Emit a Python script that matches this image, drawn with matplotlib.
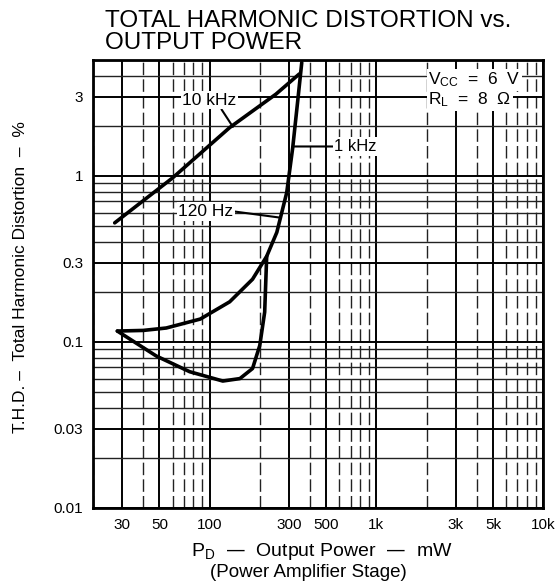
import numpy as np
import matplotlib.pyplot as plt
from matplotlib.ticker import FixedLocator, NullFormatter, LogLocator

plt.rcParams['font.family'] = ['Liberation Sans', 'DejaVu Sans']

# curves: output power (mW) vs THD (%)
p_10k = [27, 60, 132, 250, 345]
thd_10k = [0.52, 0.97, 1.95, 3.1, 4.1]

p_1k = [28, 40, 55, 88, 132, 181, 220, 253, 290, 315, 338, 357]
thd_1k = [0.116, 0.117, 0.121, 0.137, 0.174, 0.238, 0.327, 0.456, 0.79, 1.47, 2.85, 4.8]

p_120 = [28, 48, 76, 120, 152, 181, 200, 214, 220]
thd_120 = [0.116, 0.082, 0.066, 0.058, 0.060, 0.069, 0.095, 0.151, 0.327]

x_ticks = [30, 50, 100, 300, 500, 1000, 3000, 5000, 10000]
x_labels = ["30", "50", "100", "300", "500", "1k", "3k", "5k", "10k"]
y_ticks = [0.01, 0.03, 0.1, 0.3, 1, 3]
y_labels = ["0.01", "0.03", "0.1", "0.3", "1", "3"]

fig = plt.figure(figsize=(5.6, 5.85), dpi=100)
ax = fig.add_axes([0.166, 0.132, 0.804, 0.766])
ax.set_xscale("log")
ax.set_yscale("log")
ax.set_xlim(20, 10000)
ax.set_ylim(0.01, 5)

# datasheet style grid
ax.xaxis.set_minor_locator(LogLocator(base=10, subs=np.arange(2, 10)))
ax.yaxis.set_minor_locator(LogLocator(base=10, subs=np.arange(2, 10)))
ax.xaxis.set_minor_formatter(NullFormatter())
ax.yaxis.set_minor_formatter(NullFormatter())
ax.grid(True, which="minor", axis="x", color="#222222", lw=1.0, ls=(0, (9, 3)))
ax.grid(True, which="minor", axis="y", color="#222222", lw=1.0)
ax.grid(True, which="major", color="black", lw=1.4)
ax.xaxis.set_major_locator(FixedLocator(x_ticks))
ax.yaxis.set_major_locator(FixedLocator(y_ticks))
ax.set_xticklabels(x_labels)
ax.set_yticklabels(y_labels)
ax.tick_params(which="both", length=0, labelsize=11, pad=7)
for s in ax.spines.values():
    s.set_linewidth(2.0)

ax.plot(p_10k, thd_10k, color="black", lw=2.6, solid_capstyle="round")
ax.plot(p_1k, thd_1k, color="black", lw=2.6, solid_capstyle="round")
ax.plot(p_120, thd_120, color="black", lw=2.6, solid_capstyle="round")

box = dict(boxstyle="square,pad=0.1", fc="white", ec="none")
ax.annotate("10 kHz", xy=(138, 1.97), xytext=(100, 2.85), ha="center", va="center",
            fontsize=12.5, bbox=box,
            arrowprops=dict(arrowstyle="-", lw=1.5, color="black", relpos=(0.7, 0.0),
                            shrinkA=0, shrinkB=0))
ax.annotate("1 kHz", xy=(316, 1.5), xytext=(560, 1.5), ha="left", va="center",
            fontsize=12, bbox=box,
            arrowprops=dict(arrowstyle="-", lw=1.5, color="black", relpos=(0.0, 0.5),
                            shrinkA=0, shrinkB=0))
ax.annotate("120 Hz", xy=(262, 0.56), xytext=(95, 0.61), ha="center", va="center",
            fontsize=12.5, bbox=box,
            arrowprops=dict(arrowstyle="-", lw=1.5, color="black", relpos=(1.0, 0.5),
                            shrinkA=0, shrinkB=0))

ax.text(0.745, 0.955, r"$\mathregular{V_{CC}}$  =  6  V", transform=ax.transAxes,
        fontsize=12.5, ha="left", va="center", bbox=box)
ax.text(0.745, 0.91, r"$\mathregular{R_L}$  =  8  Ω", transform=ax.transAxes,
        fontsize=12.5, ha="left", va="center", bbox=box)

fig.text(0.188, 0.983, "TOTAL HARMONIC DISTORTION vs.\nOUTPUT POWER", ha="left",
         va="top", fontsize=17.5, linespacing=1.02)
fig.text(0.036, 0.527, "T.H.D. –  Total Harmonic Distortion  –  %", rotation=90,
         ha="center", va="center", fontsize=12.5)
fig.text(0.575, 0.058, r"$\mathregular{P_D}$  —  Output Power  —  mW", ha="center",
         va="center", fontsize=14)
fig.text(0.55, 0.021, "(Power Amplifier Stage)", ha="center", va="center",
         fontsize=13.5)

fig.savefig("out.png", dpi=100)
